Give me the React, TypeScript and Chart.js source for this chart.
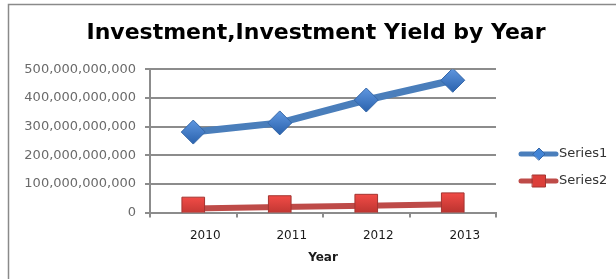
import React, { useEffect, useRef } from 'react';
import { Chart, registerables } from 'chart.js';

Chart.register(...registerables);

const years = ['2010', '2011', '2012', '2013'];
const series1 = [281e9, 313e9, 393e9, 462e9];
const series2 = [14e9, 19e9, 24e9, 29e9];
const seriesNames = ['Series1', 'Series2'];
const yMin = 0;
const yMax = 500e9;
const yStep = 100e9;
const chartTitle = 'Investment,Investment Yield by Year';
const xTitle = 'Year';

const FONT = '"DejaVu Sans", sans-serif';

function markerFill(top: string, bottom: string, half: number, fallback: string) {
  return (c: any) => {
    const chart = c.chart;
    if (!c.parsed || !chart.scales || !chart.scales.x || !chart.scales.y) return fallback;
    const y = chart.scales.y.getPixelForValue(c.parsed.y);
    if (!isFinite(y)) return fallback;
    const g = chart.ctx.createLinearGradient(0, y - half, 0, y + half);
    g.addColorStop(0, top);
    g.addColorStop(1, bottom);
    return g;
  };
}

export default function App() {
  const ref = useRef<HTMLCanvasElement>(null);

  useEffect(() => {
    const canvas = ref.current;
    if (!canvas) return;

    const frame = {
      id: 'frame',
      beforeDraw(chart: any) {
        const ctx = chart.ctx;
        ctx.save();
        ctx.fillStyle = '#ffffff';
        ctx.fillRect(0, 0, chart.width, chart.height);
        ctx.strokeStyle = '#8a8a8a';
        ctx.lineWidth = 1.5;
        ctx.beginPath();
        ctx.moveTo(8.5, chart.height);
        ctx.lineTo(8.5, 4.5);
        ctx.lineTo(chart.width, 4.5);
        ctx.stroke();
        ctx.restore();
      },
    };

    const customLegend = {
      id: 'customLegend',
      afterDraw(chart: any) {
        const ctx = chart.ctx;
        const area = chart.chartArea;
        const x0 = area.right + 23;
        const cy = chart.height / 2 + 28;
        chart.data.datasets.forEach((ds: any, i: number) => {
          const y = cy - 13.5 + i * 27;
          ctx.save();
          ctx.strokeStyle = ds.borderColor;
          ctx.lineWidth = 5;
          ctx.lineCap = 'round';
          ctx.beginPath();
          ctx.moveTo(x0 + 2, y);
          ctx.lineTo(x0 + 37, y);
          ctx.stroke();
          const mx = x0 + 20;
          ctx.fillStyle = ds.legendMarker;
          ctx.strokeStyle = ds.pointBorderColor;
          ctx.lineWidth = 1;
          ctx.beginPath();
          if (ds.pointStyle === 'rectRot') {
            const r = 6;
            ctx.moveTo(mx - r, y);
            ctx.lineTo(mx, y - r);
            ctx.lineTo(mx + r, y);
            ctx.lineTo(mx, y + r);
            ctx.closePath();
          } else {
            ctx.rect(mx - 6.5, y - 6, 13, 12);
          }
          ctx.fill();
          ctx.stroke();
          ctx.fillStyle = '#333333';
          ctx.font = '13px ' + FONT;
          ctx.textBaseline = 'middle';
          ctx.textAlign = 'left';
          ctx.fillText(ds.label, x0 + 40, y);
          ctx.restore();
        });
      },
    };

    const chart = new Chart(canvas, {
      type: 'line',
      data: {
        labels: years,
        datasets: [
          {
            label: seriesNames[0],
            data: series1,
            borderColor: '#4a7ebb',
            borderWidth: 7,
            pointStyle: 'rectRot',
            pointRadius: 12,
            pointBackgroundColor: markerFill('#5f97e0', '#2a62ad', 12, '#4385d6'),
            legendMarker: '#4385d6',
            pointBorderColor: '#3567a8',
            pointBorderWidth: 1,
            tension: 0,
            yAxisID: 'y',
          },
          {
            label: seriesNames[1],
            data: series2,
            borderColor: '#be4b48',
            borderWidth: 6,
            pointStyle: 'rect',
            pointRadius: 16,
            pointBackgroundColor: markerFill('#f04b46', '#b3302c', 11, '#dc3f3a'),
            legendMarker: '#dc3f3a',
            pointBorderColor: '#a33430',
            pointBorderWidth: 1,
            tension: 0,
            yAxisID: 'y',
          },
        ],
      } as any,
      options: {
        responsive: false,
        animation: false,
        devicePixelRatio: 1,
        layout: { padding: { left: 16, right: 0, top: 0, bottom: 0 } },
        plugins: {
          legend: { display: false },
          tooltip: { enabled: false },
          title: {
            display: true,
            text: chartTitle,
            color: '#000000',
            font: { family: FONT, weight: 'bold', size: 22 },
            padding: { top: 20, bottom: 23 },
          },
        },
        scales: {
          x: {
            offset: true,
            grid: {
              offset: true,
              drawOnChartArea: false,
              drawTicks: true,
              tickLength: 5,
              color: '#8c8c8c',
              lineWidth: 2,
            },
            border: { display: true, color: '#8c8c8c', width: 2 },
            ticks: {
              labelOffset: 12,
              padding: 11,
              color: '#1a1a1a',
              font: { family: FONT, size: 12 },
            },
            title: {
              display: true,
              text: xTitle,
              color: '#1a1a1a',
              font: { family: FONT, size: 12, weight: 'bold' },
              padding: { top: 4, bottom: 14 },
            },
            afterFit: (s: any) => {
              s.height = 66.5;
            },
          },
          y: {
            min: yMin,
            max: yMax,
            ticks: {
              stepSize: yStep,
              padding: 9,
              color: '#6a6a6a',
              font: { family: FONT, size: 13 },
              callback: (v: any) => Number(v).toLocaleString('en-US'),
            },
            grid: { color: '#8c8c8c', lineWidth: 2, tickLength: 5 },
            border: { color: '#8c8c8c', width: 2 },
            afterFit: (s: any) => {
              s.width = 134;
            },
          },
          y2: {
            type: 'linear',
            axis: 'y',
            position: 'right',
            display: true,
            grid: { display: false },
            border: { display: false },
            ticks: { display: false },
            afterFit: (s: any) => {
              s.width = 120;
            },
          },
        },
      } as any,
      plugins: [frame, customLegend],
    });

    return () => chart.destroy();
  }, []);

  return (
    <div style={{ position: 'fixed', left: 0, top: 0, width: 616, height: 279, background: '#fff' }}>
      <canvas ref={ref} width={616} height={279} style={{ display: 'block' }} />
    </div>
  );
}
